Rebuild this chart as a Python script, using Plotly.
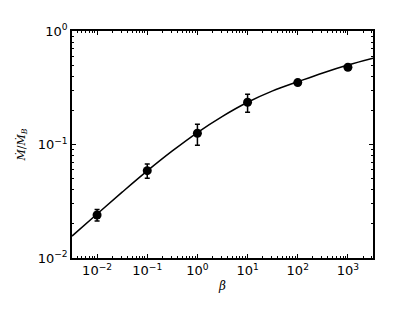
import plotly.graph_objects as go

# Measured data points
beta = [0.01, 0.1, 1, 10, 100, 1000]
mdot = [0.0239, 0.0588, 0.1256, 0.2355, 0.351, 0.479]
err_plus = [0.0029, 0.0085, 0.025, 0.042, 0.008, 0.021]
err_minus = [0.0027, 0.0084, 0.027, 0.043, 0.008, 0.029]

# Fit curve
fit_beta = [0.00316, 0.01, 0.0316, 0.1, 0.316, 1, 3.16, 10, 31.6, 100, 316, 1000, 3162]
fit_mdot = [0.0156, 0.0244, 0.0380, 0.0585, 0.0877, 0.1274, 0.177, 0.2355, 0.297, 0.357, 0.4266, 0.501, 0.575]

x_tickvals = [0.01, 0.1, 1, 10, 100, 1000]
x_ticktext = ["10<sup>−2</sup>", "10<sup>−1</sup>", "10<sup>0</sup>", "10<sup>1</sup>", "10<sup>2</sup>", "10<sup>3</sup>"]
y_tickvals = [0.01, 0.1, 1]
y_ticktext = ["10<sup>−2</sup>", "10<sup>−1</sup>", "10<sup>0</sup>"]

fig = go.Figure()
fig.add_trace(go.Scatter(
    x=fit_beta, y=fit_mdot, mode="lines", line=dict(color="black", width=1.5, shape="spline"),
    showlegend=False, hoverinfo="skip"))
fig.add_trace(go.Scatter(
    x=beta, y=mdot, mode="markers",
    marker=dict(color="black", size=9, symbol="circle"),
    error_y=dict(type="data", symmetric=False, array=err_plus, arrayminus=err_minus,
                 color="black", thickness=1.5, width=2.5),
    showlegend=False))

axis_common = dict(
    type="log", showgrid=False, zeroline=False, showline=True, linecolor="black", linewidth=1.5,
    mirror="ticks", ticks="inside", ticklen=4, tickwidth=1, tickcolor="black",
    tickfont=dict(family="DejaVu Sans", size=13, color="black"),
    minor=dict(ticks="inside", ticklen=2, tickwidth=0.8, tickcolor="black", dtick="D1", showgrid=False),
)

fig.update_layout(
    width=415, height=312,
    margin=dict(l=54, r=50, t=23, b=62),
    paper_bgcolor="white", plot_bgcolor="white",
    xaxis=dict(range=[-2.5, 3.5], tickvals=x_tickvals, ticktext=x_ticktext,
               title=dict(text="<i>β</i>", font=dict(family="DejaVu Serif", size=12, color="black"), standoff=4),
               **axis_common),
    yaxis=dict(range=[-2, 0], tickvals=y_tickvals, ticktext=y_ticktext,
               title=dict(text="<i>Ṁ</i>/<i>Ṁ</i><sub><i>B</i></sub>", font=dict(family="DejaVu Serif", size=11, color="black"), standoff=10),
               **axis_common),
)

fig.write_html("out.html")
